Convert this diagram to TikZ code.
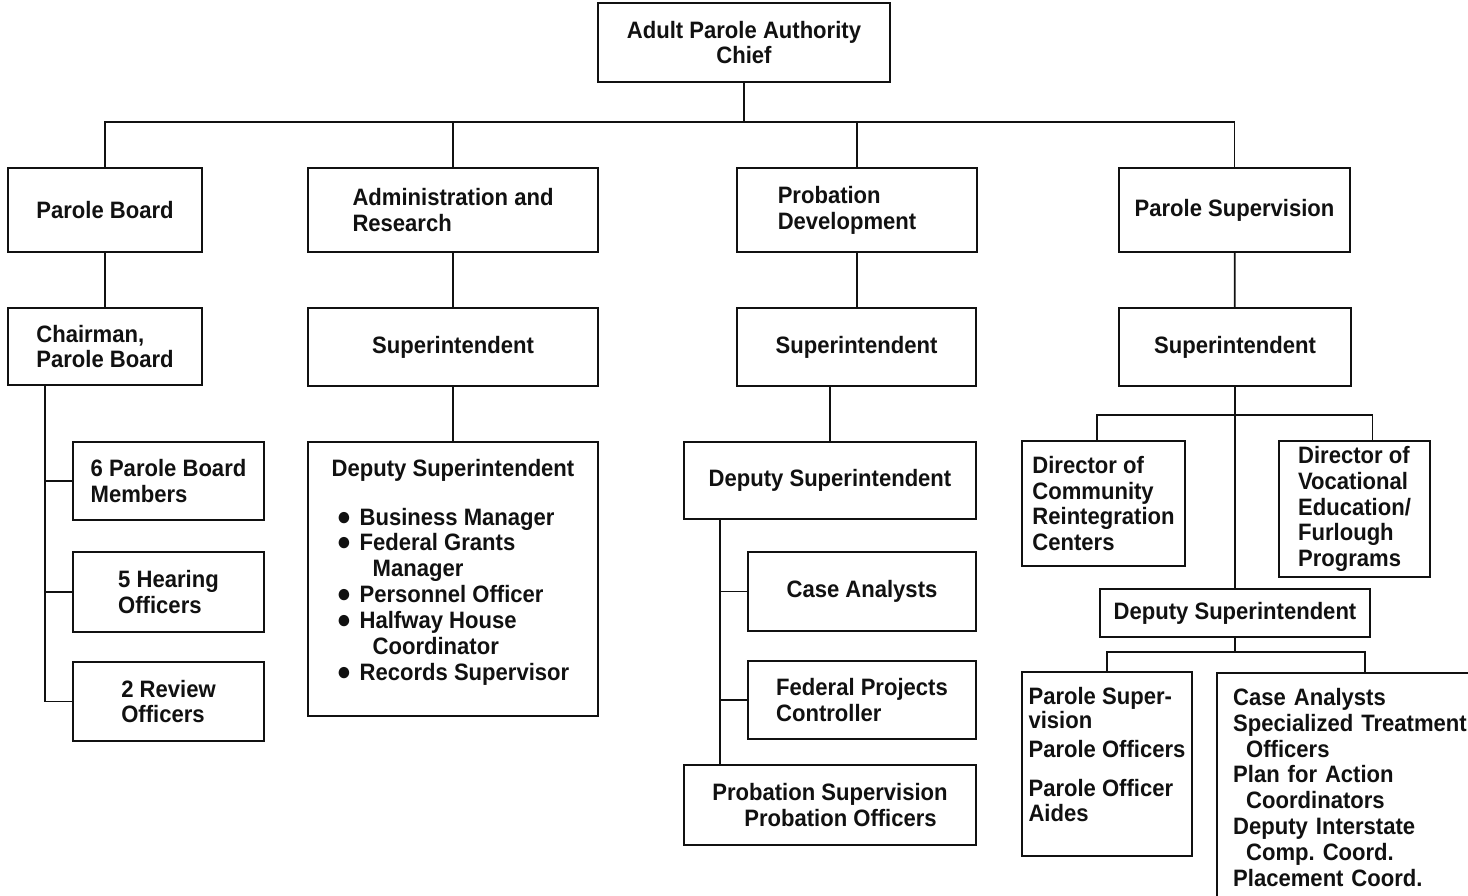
\documentclass[tikz,border=0pt]{standalone}
\usepackage{fontspec}
\setmainfont[FakeStretch=0.93]{Liberation Sans}
\usetikzlibrary{positioning,calc}
\definecolor{ink}{RGB}{17,17,17}
\tikzset{
    orgbox/.style={
        draw=ink,line width=1.4pt,align=center,text=ink,
        font=\fontsize{13.5}{14.7}\selectfont\bfseries,inner sep=3pt
    },
    leftbox/.style={orgbox,align=left},
    link/.style={draw=ink,line width=1pt}
}
\newcommand{\dotitem}{\makebox[0.56cm][l]{\hspace{0.1cm}\smash{\fontsize{15}{14}\selectfont ●}}}

\begin{document}
\begin{tikzpicture}[x=0.02cm,y=-0.02cm]
\useasboundingbox (0,0) rectangle (1468,896);
\fill[white] (0,0) rectangle (1468,896);

% head and the four branches
\node[orgbox,minimum width=5.84cm,minimum height=1.58cm] (chief) at (744,42.5) {Adult Parole Authority\\Chief};
\node[orgbox,minimum width=3.88cm,minimum height=1.68cm] (board) at (105,210) {Parole Board};
\node[leftbox,minimum width=5.8cm,minimum height=1.68cm] (admin) at (453,210) {Administration and\\Research};
\node[leftbox,minimum width=4.8cm,minimum height=1.68cm] (probdev) at (857,210) {Probation\\Development\hspace*{0.4cm}};
\node[orgbox,minimum width=4.62cm,minimum height=1.68cm] (parsup) at (1234.5,210) {Parole Supervision};

% second row
\node[leftbox,minimum width=3.88cm,minimum height=1.54cm] (chair) at (105,346.5) {Chairman,\\Parole Board};
\node[orgbox,minimum width=5.8cm,minimum height=1.56cm] (adminsup) at (453,347) {Superintendent};
\node[orgbox,minimum width=4.78cm,minimum height=1.56cm] (probsup) at (856.5,347) {Superintendent};
\node[orgbox,minimum width=4.64cm,minimum height=1.56cm] (parsupt) at (1235,347) {Superintendent};

% parole board
\node[leftbox,minimum width=3.82cm,minimum height=1.56cm] (members) at (168.5,481) {6 Parole Board\\Members};
\node[leftbox,minimum width=3.82cm,minimum height=1.6cm] (hearing) at (168.5,592) {5 Hearing\\Officers};
\node[leftbox,minimum width=3.82cm,minimum height=1.58cm] (review) at (168.5,701.5) {2 Review\\Officers};

% administration
\node[leftbox,minimum width=5.8cm,minimum height=5.48cm] (admindep) at (453,579) {Deputy Superintendent\\[0.46cm]
\dotitem Business Manager\\
\dotitem Federal Grants\\
\hspace*{0.82cm}Manager\\
\dotitem Personnel Officer\\
\dotitem Halfway House\\
\hspace*{0.82cm}Coordinator\\
\dotitem Records Supervisor\\[-0.14cm]\mbox{}};

% probation
\node[orgbox,minimum width=5.84cm,minimum height=1.54cm] (probdep) at (830,480.5) {Deputy Superintendent};
\node[orgbox,minimum width=4.56cm,minimum height=1.58cm] (caseprob) at (862,591.5) {Case Analysts};
\node[leftbox,minimum width=4.56cm,minimum height=1.56cm] (fedproj) at (862,700) {Federal Projects\\Controller};
\node[leftbox,minimum width=5.84cm,minimum height=1.6cm] (probsv) at (830,805) {Probation Supervision\\\hspace*{0.64cm}Probation Officers};

% parole supervision
\node[leftbox,minimum width=3.26cm,minimum height=2.5cm] (commdir) at (1103.5,503.5) {Director of\\Community\\Reintegration\\Centers};
\node[leftbox,minimum width=3.02cm,minimum height=2.72cm] (vocdir) at (1354.5,509) {Director of\\Vocational\\Education/\\Furlough\\Programs};
\node[orgbox,minimum width=5.4cm,minimum height=0.96cm] (pardep) at (1235,613) {Deputy Superintendent};
\node[leftbox,minimum width=3.4cm,minimum height=3.68cm] (parofc) at (1107,764) {Parole Super-\\[-0.04cm]vision\\[0.06cm]Parole Officers\\[0.26cm]Parole Officer\\Aides\\[-0.14cm]\mbox{}};
\node[leftbox,anchor=north west,text width=5cm,inner xsep=0.32cm,inner ysep=0.3cm] (paranl) at (1216,672) {Case Analysts\\Specialized Treatment\\\hspace*{0.26cm}Officers\\Plan for Action\\\hspace*{0.26cm}Coordinators\\Deputy Interstate\\\hspace*{0.26cm}Comp.\ Coord.\\Placement Coord.};

% lines
\coordinate (bus) at (0,122);
\draw[link] (chief.south) -- (chief.south |- bus);
\draw[link] (board.north) |- (parsup.north |- bus) -- (parsup.north);
\draw[link] (admin.north) -- (admin.north |- bus);
\draw[link] (probdev.north) -- (probdev.north |- bus);

\draw[link] (board) -- (chair);
\draw[link] (admin) -- (adminsup);
\draw[link] (adminsup) -- (admindep);
\draw[link] (probdev.south) -- (probdev.south |- probsup.north);
\draw[link] (parsup) -- (parsupt);

\coordinate (chairbus) at ([xshift=-1.2cm]chair.south);
\draw[link] (chairbus) |- (review.west);
\draw[link] (members.west) -- (members.west -| chairbus);
\draw[link] (hearing.west) -- (hearing.west -| chairbus);

\draw[link] (probsup.south -| probdep.north) -- (probdep.north);
\coordinate (probbus) at ([xshift=-2.2cm]probdep.south);
\draw[link] (probbus) -- (probbus |- probsv.north);
\draw[link] (caseprob.west) -- (caseprob.west -| probbus);
\draw[link] (fedproj.west) -- (fedproj.west -| probbus);

\draw[link] (parsupt.south) -- (parsupt.south |- pardep.north);
\coordinate (dirbus) at (0,415);
\coordinate (commtop) at ([xshift=-0.13cm]commdir.north);
\coordinate (voctop) at ([xshift=0.36cm]vocdir.north);
\draw[link] (commtop) |- (voctop |- dirbus) -- (voctop);
\coordinate (depbus) at (0,652);
\coordinate (analtop) at ([xshift=2.98cm]paranl.north west);
\draw[link] (pardep.south) -- (pardep.south |- depbus);
\draw[link] (parofc.north) |- (analtop |- depbus) -- (analtop);
\end{tikzpicture}
\end{document}
